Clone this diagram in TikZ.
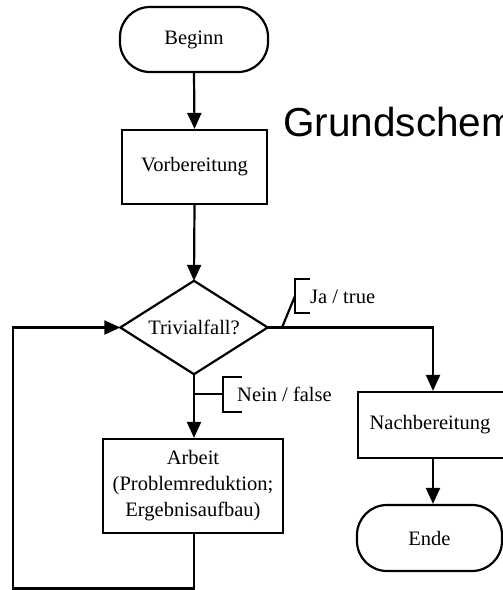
\documentclass[tikz,border=0pt]{standalone}
\usepackage{fontspec}
\setmainfont{Liberation Serif}
\newfontfamily\titlefont{Liberation Sans}
\usetikzlibrary{arrows.meta}
\tikzset{
  every node/.style={font=\fontsize{20.5}{26}\selectfont},
  line/.style={line width=2.2pt},
  arr/.style={line width=2.2pt,-{Triangle[width=14pt,length=16pt]}},
  boxnode/.style={draw,line width=2.2pt,rectangle,inner sep=0pt,align=center},
  termnode/.style={draw,line width=2.2pt,rectangle,rounded corners=30pt,inner sep=0pt},
  lbl/.style={anchor=west,inner sep=0pt}
}
\begin{document}
\begin{tikzpicture}[x=1pt,y=1pt]
\useasboundingbox (0,0) rectangle (503,-590);
\begin{scope}
\clip (0,0) rectangle (503,-590);
\node[termnode,minimum width=148pt,minimum height=65pt] (begin) at (194,-39.5) {Beginn};
\node[boxnode,minimum width=145pt,minimum height=74pt] (vorb) at (194.5,-167) {Vorbereitung};
\node[inner sep=0pt,minimum width=147pt,minimum height=93pt] (triv) at (194,-327.5) {Trivialfall?};
\draw[line,line join=miter] (triv.west) -- (triv.north) -- (triv.east) -- (triv.south) -- cycle;
\node[boxnode,minimum width=150pt,minimum height=66pt] (nach) at (433,-425) {\hspace*{-6pt}Nachbereitung};
\node[termnode,minimum width=145pt,minimum height=66pt] (ende) at (429.5,-538) {Ende};
\node[boxnode,minimum width=180pt,minimum height=94pt] (arb) at (193,-486) {Arbeit\\(Problemreduktion;\\Ergebnisaufbau)};
\node[anchor=base west,inner sep=0pt,font=\titlefont\fontsize{40.5}{44}\selectfont] (title) at (283,-136) {Grundschema};

\draw[arr] (begin.south) -- (vorb.north);
\draw[arr] (vorb.south) -- (triv.north);
\draw[arr] (triv.east) -| (nach.north);
\draw[arr] (triv.south) -- (triv.south |- arb.north);
\draw[arr] (nach.south) -- (nach.south |- ende.north);
\coordinate (lb) at (13,-588.5);
\draw[arr] (arb.south -| triv.south) |- (lb) |- (triv.west);

% Ja / true label
\coordinate (jaS) at (282,-327.5);
\coordinate (jaT) at (295,-296);
\draw[line] (jaS) -- (jaT);
\draw[line] (310,-279) -- (295,-279) -- (295,-313) -- (310,-313);
\node[lbl] (ja) at (310,-297) {Ja / true};

% Nein / false label
\coordinate (neinS) at (195,-394);
\draw[line] (neinS) -- (223,-394);
\draw[line] (242,-377) -- (223,-377) -- (223,-412) -- (242,-412);
\node[lbl] (nein) at (237,-394) {Nein / false};
\end{scope}
\end{tikzpicture}
\end{document}
